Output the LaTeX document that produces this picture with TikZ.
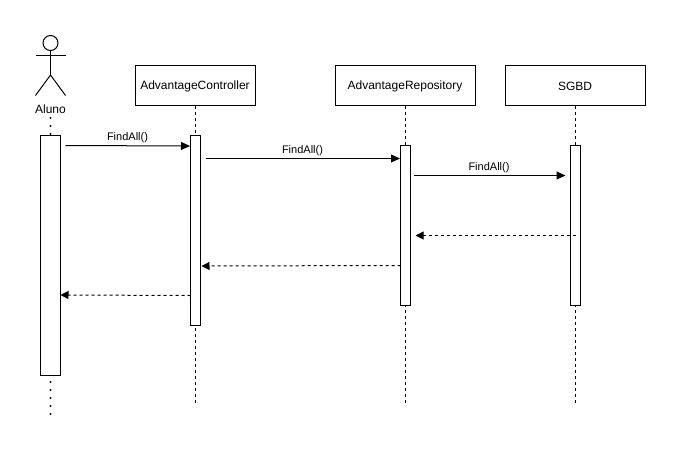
\documentclass[tikz,border=0pt]{standalone}
\usepackage{fontspec}
\setmainfont{Liberation Sans}
\usetikzlibrary{arrows.meta}
\tikzset{
  x=1pt,y=-1pt,
  headbox/.style={draw=black,fill=white,line width=1pt,minimum height=40pt,inner sep=0pt},
  headtext/.style={inner sep=0pt,font=\fontsize{12}{14}\selectfont,yshift=-1pt,xshift=-0.5pt},
  actbox/.style={draw=black,fill=white,line width=1pt,inner sep=0pt},
  lifeline/.style={line width=1pt,dash pattern=on 3pt off 3pt},
  actorline/.style={line width=2.4pt,line cap=round,dash pattern=on 0pt off 8pt},
  actorpart/.style={draw=black,line width=1pt},
  msg/.style={line width=1pt,-{Triangle[length=9pt,width=8pt]}},
  ret/.style={line width=1pt,dash pattern=on 3pt off 3pt,-{Triangle[length=8pt,width=8pt]}},
  msglabel/.style={inner sep=0pt,font=\fontsize{11}{13}\selectfont}
}
\begin{document}
\begin{tikzpicture}
\useasboundingbox (0,0) rectangle (681,453);
% coordinates for free ends
\coordinate (actTopDots) at (50.5,118);
\coordinate (actBotDots) at (50.5,415);
\coordinate (ctlEnd) at (195.5,403);
\coordinate (repEnd) at (405.5,403);
\coordinate (dbEnd) at (575.5,403);
\coordinate (m1s) at (65.5,145.5); \coordinate (m1e) at (190,146);
\coordinate (m2s) at (205.5,158.5); \coordinate (m2e) at (400,158.5);
\coordinate (m3s) at (414,175.5); \coordinate (m3e) at (565.5,175.5);
\coordinate (r1s) at (575.5,235.5); \coordinate (r1e) at (415.5,235.5);
\coordinate (r2s) at (400.5,265.5); \coordinate (r2e) at (201.5,266);
\coordinate (r3s) at (190.5,295.5); \coordinate (r3e) at (60.5,295);
% headers
\node[headbox,minimum width=120pt,label={[headtext]center:AdvantageController}] (ctl) at (195.5,85.5) {};
\node[headbox,minimum width=140pt,label={[headtext]center:AdvantageRepository}] (rep) at (405.5,85.5) {};
\node[headbox,minimum width=140pt,label={[headtext]center:SGBD}] (db) at (575.5,85.5) {};
% lifelines
\draw[lifeline] (ctl.south) -- (ctlEnd);
\draw[lifeline] (rep.south) -- (repEnd);
\draw[lifeline] (db.south) -- (dbEnd);
% actor
\node[actorpart,circle,minimum size=15pt,inner sep=0pt] (head) at (50.5,43) {};
\coordinate (hip) at (50.5,75);
\coordinate (armL) at (35.5,55.5); \coordinate (armR) at (65.5,55.5);
\coordinate (legL) at (35.5,95.5); \coordinate (legR) at (65.5,95.5);
\draw[actorpart] (head.south) -- (hip);
\draw[actorpart] (armL) -- (armR);
\draw[actorpart] (legL) -- (hip) -- (legR);
\node[inner sep=0pt,font=\fontsize{12}{14}\selectfont] (aluno) at (50.5,109.5) {Aluno};
% activation boxes
\node[actbox,minimum width=20pt,minimum height=240pt] (aAct) at (50.5,255.5) {};
\node[actbox,minimum width=10pt,minimum height=190pt] (cAct) at (195.5,230.5) {};
\node[actbox,minimum width=10pt,minimum height=160pt] (rAct) at (405.5,225.5) {};
\node[actbox,minimum width=10pt,minimum height=160pt] (dAct) at (575.5,225.5) {};
% actor dotted line
\draw[actorline] (actTopDots) -- (aAct.north);
\coordinate (actBotStart) at (50.5,382);
\draw[actorline] (actBotStart) -- (actBotDots);
% messages
\draw[msg] (m1s) -- (m1e);
\draw[msg] (m2s) -- (m2e);
\draw[msg] (m3s) -- (m3e);
\draw[ret] (r1s) -- (r1e);
\draw[ret] (r2s) -- (r2e);
\draw[ret] (r3s) -- (r3e);
\node[msglabel] (l1) at (127.5,138) {FindAll()};
\node[msglabel] (l2) at (302.5,151) {FindAll()};
\node[msglabel] (l3) at (489,168) {FindAll()};
\end{tikzpicture}
\end{document}
